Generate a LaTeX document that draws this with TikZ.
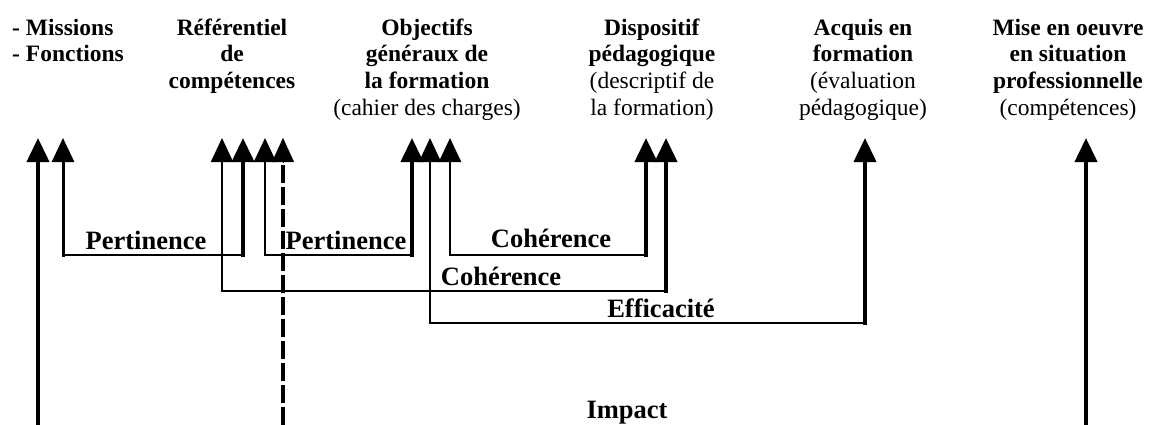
\documentclass[tikz,border=0pt]{standalone}
\usepackage{fontspec}
\setmainfont{Liberation Serif}
\usetikzlibrary{arrows.meta}
\begin{document}
\begin{tikzpicture}[x=1pt,y=-1pt,
  head/.style={inner sep=0pt, anchor=north, align=center, font=\fontsize{23.5}{26.7}\selectfont},
  lab/.style={inner sep=0pt, anchor=base, font=\fontsize{26.5}{30}\selectfont\bfseries},
  tipline/.style={-{Triangle[length=24pt,width=22pt]}, line cap=rect},
  hline/.style={line width=2.8pt, line cap=rect},
  dashline/.style={line width=4pt, dash pattern=on 18pt off 4pt}]
\useasboundingbox (0,0) rectangle (1150,425);
\newcommand{\hs}{\rule{0pt}{19pt}}
% headers
\node[head, anchor=north west, align=left] (h1) at (12,16) {\hs\textbf{- Missions}\\\textbf{- Fonctions}};
\node[head] (h2) at (232,16) {\hs\textbf{Référentiel}\\\textbf{de}\\\textbf{compétences}};
\node[head] (h3) at (427,16) {\hs\textbf{Objectifs}\\\textbf{généraux de}\\\textbf{la formation}\\(cahier des charges)};
\node[head] (h4) at (652,16) {\hs\textbf{Dispositif}\\\textbf{pédagogique}\\(descriptif de\\la formation)};
\node[head] (h5) at (863,16) {\hs\textbf{Acquis en}\\\textbf{formation}\\(évaluation\\pédagogique)};
\node[head] (h6) at (1068,16) {\hs\textbf{Mise en oeuvre}\\\textbf{en situation}\\\textbf{professionnelle}\\(compétences)};
% arrow tips
\coordinate (tM) at (38,138);
\coordinate (tF) at (63,138);
\coordinate (tRa) at (222,138);
\coordinate (tRb) at (243,138);
\coordinate (tRc) at (265,138);
\coordinate (tRd) at (283,138);
\coordinate (tOa) at (412,138);
\coordinate (tOb) at (430,138);
\coordinate (tOc) at (450,138);
\coordinate (tDa) at (646,138);
\coordinate (tDb) at (666,138);
\coordinate (tA) at (865,138);
\coordinate (tS) at (1086,138);
% bottoms / corners
\coordinate (bM) at (38,425);
\coordinate (bD) at (283,425);
\coordinate (bS) at (1086,425);
\coordinate (c1a) at (63,255);  \coordinate (c1b) at (243,255);
\coordinate (c2a) at (265,255); \coordinate (c2b) at (412,255);
\coordinate (c3a) at (450,255); \coordinate (c3b) at (646,255);
\coordinate (c4a) at (222,291); \coordinate (c4b) at (666,291);
\coordinate (c5a) at (430,323); \coordinate (c5b) at (865,323);
% long arrows
\draw[tipline, line width=4pt, line cap=butt] (bM) -- (tM);
\draw[tipline, line width=4pt, line cap=butt] (bS) -- (tS);
\draw[dashline] (bD) -- ([yshift=-24pt]tRd);
\draw[-{Triangle[length=24pt,width=22pt]}, line width=0.1pt] ([yshift=-24pt]tRd) -- (tRd);
% Pertinence 1
\draw[hline] (c1a) -- (c1b);
\draw[tipline, line width=3pt] (c1a) -- (tF);
\draw[tipline, line width=4pt] (c1b) -- (tRb);
% Pertinence 2
\draw[hline] (c2a) -- (c2b);
\draw[tipline, line width=2.5pt] (c2a) -- (tRc);
\draw[tipline, line width=4pt] (c2b) -- (tOa);
% Coherence 1
\draw[hline] (c3a) -- (c3b);
\draw[tipline, line width=2.5pt] (c3a) -- (tOc);
\draw[tipline, line width=4pt] (c3b) -- (tDa);
% Coherence 2
\draw[hline] (c4a) -- (c4b);
\draw[tipline, line width=2pt] (c4a) -- (tRa);
\draw[tipline, line width=4pt] (c4b) -- (tDb);
% Efficacite
\draw[hline] (c5a) -- (c5b);
\draw[tipline, line width=1.6pt] (c5a) -- (tOb);
\draw[tipline, line width=4pt] (c5b) -- (tA);
% labels
\node[lab] (l1) at (146,249) {Pertinence};
\node[lab] (l2) at (346,249) {Pertinence};
\node[lab] (l3) at (551,247) {Cohérence};
\node[lab] (l4) at (501,285) {Cohérence};
\node[lab] (l5) at (661,317) {Efficacité};
\node[lab] (l6) at (627,418) {Impact};
\end{tikzpicture}
\end{document}
